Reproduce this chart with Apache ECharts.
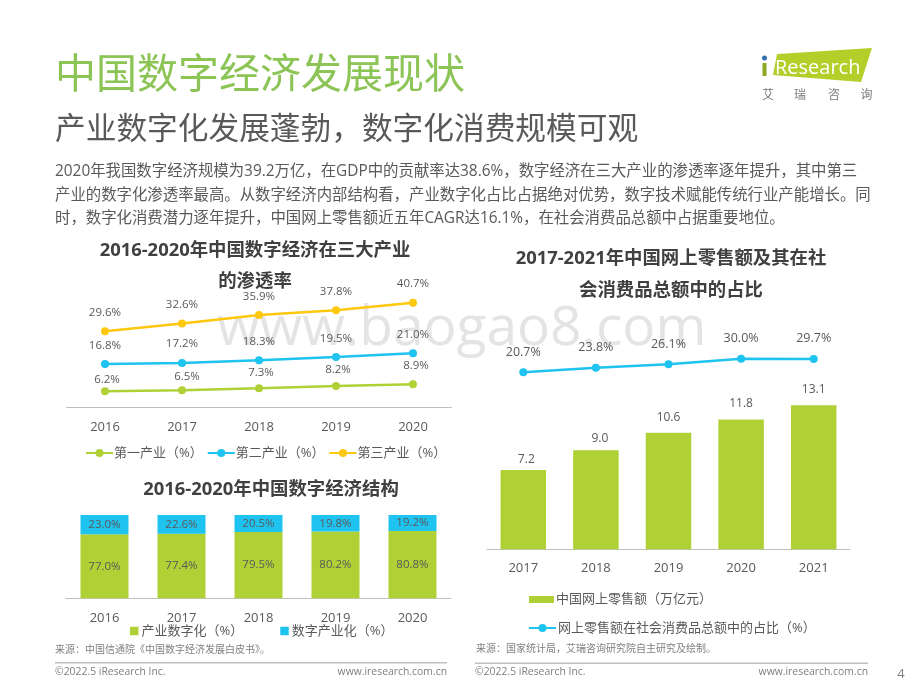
<!DOCTYPE html>
<html lang="zh">
<head>
<meta charset="UTF-8">
<script src="https://cdn.jsdelivr.net/npm/echarts@6/dist/echarts.min.js"></script>
<style>
  html, body { margin: 0; padding: 0; background: #fff; }
  #main { width: 920px; height: 690px; }
</style>
</head>
<body>
<div id="main"></div>
<script type="text/javascript">
// 三大产业渗透率
var pen_years = ['2016', '2017', '2018', '2019', '2020'];
var pen_first = [6.2, 6.5, 7.3, 8.2, 8.9];
var pen_second = [16.8, 17.2, 18.3, 19.5, 21.0];
var pen_third = [29.6, 32.6, 35.9, 37.8, 40.7];

// 数字经济结构
var struct_years = ['2016', '2017', '2018', '2019', '2020'];
var struct_industry = [77.0, 77.4, 79.5, 80.2, 80.8];
var struct_digital = [23.0, 22.6, 20.5, 19.8, 19.2];

// 网上零售额
var retail_years = ['2017', '2018', '2019', '2020', '2021'];
var retail_amount = [7.2, 9.0, 10.6, 11.8, 13.1];
var retail_share = [20.7, 23.8, 26.1, 30.0, 29.7];

var body_lines = [
    '2020年我国数字经济规模为39.2万亿，在GDP中的贡献率达38.6%，数字经济在三大产业的渗透率逐年提升，其中第三',
    '产业的数字化渗透率最高。从数字经济内部结构看，产业数字化占比占据绝对优势，数字技术赋能传统行业产能增长。同',
    '时，数字化消费潜力逐年提升，中国网上零售额近五年CAGR达16.1%，在社会消费品总额中占据重要地位。'
];

var GREEN = '#afd136', BLUE = '#1fc3ef', YELLOW = '#fdc80e';
var FONT = '"Open Sans","Noto Sans CJK SC",sans-serif';
var myChart = echarts.init(document.getElementById('main'));

function txt(text, x, y, size, color, align, weight, z) {
    return {
        type: 'text', x: x, y: y, z: z === undefined ? 5 : z,
        style: {
            text: text, fill: color, fontSize: size, fontFamily: FONT,
            fontWeight: weight || 'normal', align: align || 'left', verticalAlign: 'middle'
        }
    };
}

function fmtPct(p) { return p.value.toFixed(1) + '%'; }

// 标签微调：nudge 为每个点的 offset
function withNudge(data, nudge) {
    var items = [];
    for (var k = 0; k < data.length; k++) {
        items.push({ value: data[k], label: { offset: nudge[k] } });
    }
    return items;
}

function lineSeries(name, data, color) {
    return {
        name: name, type: 'line', data: data, xAxisIndex: 0, yAxisIndex: 0, z: 3,
        symbol: 'circle', symbolSize: 8, showAllSymbol: true,
        lineStyle: { color: color, width: 2.5 },
        itemStyle: { color: color },
        label: { show: true, position: 'top', distance: 9, fontSize: 11.5, color: '#595959', formatter: fmtPct }
    };
}

function stackSeries(name, data, color) {
    return {
        name: name, type: 'bar', stack: 'total', data: data, xAxisIndex: 1, yAxisIndex: 1,
        barWidth: 48, itemStyle: { color: color },
        label: { show: true, position: 'inside', fontSize: 11.5, color: '#595959', formatter: fmtPct }
    };
}

function catAxis(data, gridIndex, margin) {
    return {
        type: 'category', data: data, gridIndex: gridIndex,
        axisTick: { show: false },
        axisLine: { lineStyle: { color: '#bfbfbf', width: 1 } },
        axisLabel: { fontSize: 13, color: '#595959', margin: margin }
    };
}

function valAxis(gridIndex, min, max) {
    return { type: 'value', gridIndex: gridIndex, min: min, max: max, show: false, splitLine: { show: false } };
}

var graphics = [
    txt('www.baogao8.com', 217, 329, 55, '#e4e4e4', 'left', 'normal', -1),
    txt('中国数字经济发展现状', 55, 76, 41, '#8cc456'),
    txt('产业数字化发展蓬勃，数字化消费规模可观', 55, 130, 30.7, '#595959'),
    txt('2016-2020年中国数字经济在三大产业', 255, 251, 18.4, '#404040', 'center', 'bold'),
    txt('的渗透率', 255, 281.5, 18.4, '#404040', 'center', 'bold'),
    txt('2016-2020年中国数字经济结构', 271, 489.5, 18.4, '#404040', 'center', 'bold'),
    txt('2017-2021年中国网上零售额及其在社', 671, 259, 18.4, '#404040', 'center', 'bold'),
    txt('会消费品总额中的占比', 671, 291, 18.4, '#404040', 'center', 'bold'),
    txt('来源：中国信通院《中国数字经济发展白皮书》。', 55, 650, 10, '#7f7f7f'),
    txt('来源：国家统计局，艾瑞咨询研究院自主研究及绘制。', 476, 649, 10, '#7f7f7f'),
    txt('©2022.5 iResearch Inc.', 55, 672, 10.4, '#7f7f7f'),
    txt('www.iresearch.com.cn', 447, 672, 10.4, '#7f7f7f', 'right'),
    txt('©2022.5 iResearch Inc.', 475, 672, 10.4, '#7f7f7f'),
    txt('www.iresearch.com.cn', 868, 672, 10.4, '#7f7f7f', 'right'),
    txt('4', 901, 674, 13, '#7f7f7f', 'center'),
    { type: 'rect', shape: { x: 55, y: 662, width: 392, height: 1.5 }, style: { fill: '#bfbfbf' } },
    { type: 'rect', shape: { x: 475, y: 662.5, width: 393, height: 1.5 }, style: { fill: '#bfbfbf' } },
    // logo
    { type: 'polygon', shape: { points: [[777, 54], [872, 48], [861, 82], [773, 75]] }, style: { fill: '#b5cf2a' } },
    { type: 'circle', shape: { cx: 764.5, cy: 58, r: 2.5 }, style: { fill: '#2f6fb0' } },
    { type: 'rect', shape: { x: 762.5, y: 63, width: 4, height: 13 }, style: { fill: '#8fa821' } },
    txt('Research', 775, 68, 20, '#ffffff', 'left', 'normal', 6),
    txt('艾', 768, 96, 12, '#7a7a7a', 'center'),
    txt('瑞', 800, 96, 12, '#7a7a7a', 'center'),
    txt('咨', 834, 96, 12, '#7a7a7a', 'center'),
    txt('询', 866.5, 96, 12, '#7a7a7a', 'center')
];
for (var i = 0; i < body_lines.length; i++) {
    graphics.push(txt(body_lines[i], 55, 171.5 + i * 23.7, 15.4, '#595959'));
}

var first_nudge = [[2, 7], [5, 5], [2, 3], [2, 2], [3, 0]];
var retail_nudge = [[3, 3], [4, 2], [0, -1], [0, -2], [0, -2]];

var option = {
    animation: false,
    backgroundColor: '#fff',
    textStyle: { fontFamily: FONT },
    graphic: graphics,
    grid: [
        { left: 66.5, width: 385, top: 279, height: 128 },
        { left: 66, width: 385, top: 515, height: 83.3 },
        { left: 487, width: 363, top: 329.3, height: 220 }
    ],
    xAxis: [catAxis(pen_years, 0, 13.5), catAxis(struct_years, 1, 13), catAxis(retail_years, 2, 12.5)],
    yAxis: [valAxis(0, 0, 50), valAxis(1, 0, 100), valAxis(2, 0, 20), valAxis(2, -100, 50)],
    legend: [
        {
            data: ['第一产业（%）', '第二产业（%）', '第三产业（%）'],
            left: 85, top: 446.5, padding: 0, itemWidth: 27, itemHeight: 10, itemGap: 4,
            textStyle: { fontSize: 13, color: '#595959', padding: [0, 0, 0, -4] }
        },
        {
            data: [
                { name: '产业数字化（%）', icon: 'rect' },
                { name: '数字产业化（%）', icon: 'rect' }
            ],
            left: 130, top: 624.5, padding: 0, itemWidth: 8.5, itemHeight: 8.5, itemGap: 37,
            textStyle: { fontSize: 13, color: '#595959', padding: [0, 0, 0, -2] }
        },
        {
            data: [{ name: '中国网上零售额（万亿元）', icon: 'rect' }],
            left: 529, top: 593, padding: 0, itemWidth: 25, itemHeight: 7,
            textStyle: { fontSize: 13, color: '#595959', padding: [0, 0, 0, -3] }
        },
        {
            data: ['网上零售额在社会消费品总额中的占比（%）'],
            left: 528, top: 621.5, padding: 0, itemWidth: 27, itemHeight: 10,
            textStyle: { fontSize: 13, color: '#595959', padding: [0, 0, 0, -3] }
        }
    ],
    series: [
        lineSeries('第一产业（%）', withNudge(pen_first, first_nudge), GREEN),
        lineSeries('第二产业（%）', pen_second, BLUE),
        lineSeries('第三产业（%）', pen_third, YELLOW),
        stackSeries('产业数字化（%）', struct_industry, GREEN),
        stackSeries('数字产业化（%）', struct_digital, BLUE),
        {
            name: '中国网上零售额（万亿元）', type: 'bar', data: withNudge(retail_amount, retail_nudge),
            xAxisIndex: 2, yAxisIndex: 2, barWidth: 45.5,
            itemStyle: { color: GREEN },
            label: {
                show: true, position: 'top', distance: 8, fontSize: 12, color: '#595959',
                formatter: function (p) { return p.value.toFixed(1); }
            }
        },
        {
            name: '网上零售额在社会消费品总额中的占比（%）', type: 'line', data: retail_share,
            xAxisIndex: 2, yAxisIndex: 3,
            symbol: 'circle', symbolSize: 8, showAllSymbol: true,
            lineStyle: { color: BLUE, width: 2.5 }, itemStyle: { color: BLUE },
            label: { show: true, position: 'top', distance: 10, fontSize: 12.5, color: '#595959', formatter: fmtPct }
        }
    ]
};
myChart.setOption(option);
</script>
</body>
</html>
